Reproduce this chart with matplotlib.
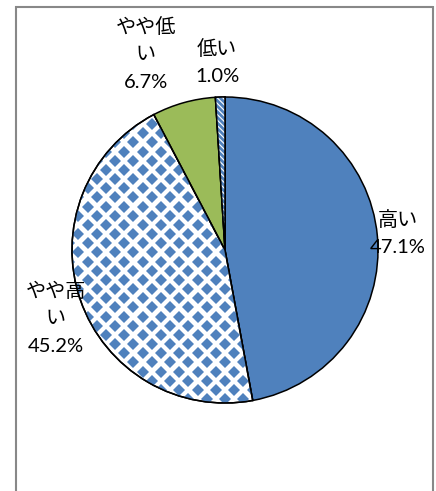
import numpy as np
import matplotlib
matplotlib.use("Agg")
import matplotlib.pyplot as plt
from matplotlib.patches import Wedge

# ---- data ----
categories = ["高い", "やや高い", "やや低い", "低い"]
values = [47.1, 45.2, 6.7, 1.0]
label_texts = ["高い\n47.1%", "やや高\nい\n45.2%", "やや低\nい\n6.7%", "低い\n1.0%"]

BLUE = "#4F81BD"
GREEN = "#9BBB59"

W, H = 436, 491
fig = plt.figure(figsize=(W / 100, H / 100), dpi=100)
ax = fig.add_axes([0, 0, 1, 1])
ax.axis("off")

def py(y):
    return H - y

cx, cy, r = 225, py(250), 153
colors = [BLUE, "white", GREEN, "white"]
wedges, _ = ax.pie(values, startangle=90, counterclock=False, center=(cx, cy),
                   radius=r, colors=colors,
                   wedgeprops=dict(edgecolor="black", linewidth=1.1))
ax.set_xlim(0, W)
ax.set_ylim(0, H)
ax.set_aspect("equal")

# diamond pattern for "やや高い"
w1 = wedges[1]
step = 9.17
gx = np.arange(0, W + 2 * step, step)
gy = np.arange(0, H + 2 * step, step)
XX, YY = np.meshgrid(gx, gy)
ii, jj = np.meshgrid(np.arange(len(gx)), np.arange(len(gy)))
mask = ((ii + jj) % 2 == 0)
xs = XX[mask] + 5
ys = H - (YY[mask] + 14)
pts, = ax.plot(xs, ys, linestyle="none", marker="D", ms=6.3, mew=0,
               color=BLUE, zorder=w1.get_zorder() + 0.1)
pts.set_clip_path(w1)
outline1 = Wedge((cx, cy), r, w1.theta1, w1.theta2, facecolor="none",
                 edgecolor="black", linewidth=1.1, zorder=w1.get_zorder() + 0.2)
ax.add_patch(outline1)

# diagonal stripes for "低い"
w3 = wedges[3]
plt.rcParams["hatch.linewidth"] = 2.0
hatch = Wedge((cx, cy), r, w3.theta1, w3.theta2, facecolor="white",
              edgecolor=BLUE, linewidth=0, hatch="\\" * 6,
              zorder=w3.get_zorder() + 0.1)
ax.add_patch(hatch)
outline3 = Wedge((cx, cy), r, w3.theta1, w3.theta2, facecolor="none",
                 edgecolor="black", linewidth=1.1, zorder=w3.get_zorder() + 0.2)
ax.add_patch(outline3)

# labels
label_pos = [(398, 233), (56, 318), (146, 54), (217, 62)]
for txt, (x, y) in zip(label_texts, label_pos):
    ax.text(x, py(y), txt, ha="center", va="center", fontsize=14.5,
            linespacing=1.75, zorder=10,
            family=["Lato", "Noto Sans CJK JP"])

# outer frame
fc = "#888888"
ax.plot([15.5, 15.5], [py(6), -5], color=fc, lw=1.5, solid_capstyle="butt")
ax.plot([432.5, 432.5], [py(6), -5], color=fc, lw=1.5, solid_capstyle="butt")
ax.plot([15, 433], [py(6.5), py(6.5)], color=fc, lw=1.5, solid_capstyle="butt")

fig.savefig("out.png", dpi=100)
